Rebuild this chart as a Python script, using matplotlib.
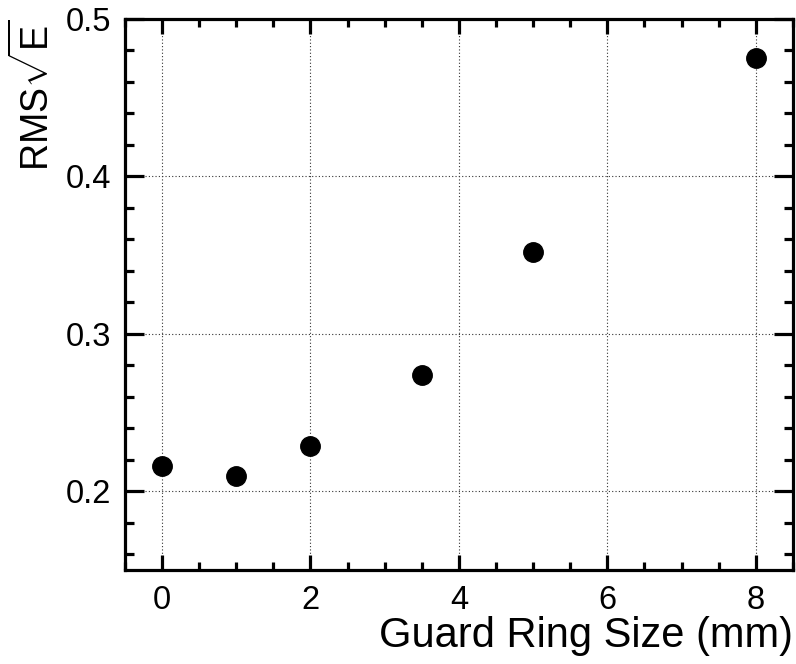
import matplotlib
matplotlib.use("Agg")
import matplotlib.pyplot as plt
from matplotlib.ticker import MultipleLocator

plt.rcParams['font.family'] = ['Liberation Sans', 'DejaVu Sans']
plt.rcParams['mathtext.fontset'] = 'custom'
plt.rcParams['mathtext.rm'] = 'Liberation Sans'
plt.rcParams['mathtext.it'] = 'Liberation Sans'

# guard ring size (mm) vs RMS/sqrt(E)
ring_size = [0, 1, 2, 3.5, 5, 8]
rms_sqrt_e = [0.216, 0.210, 0.229, 0.274, 0.352, 0.475]

fig = plt.figure(figsize=(7.96, 6.64), dpi=100)
ax = fig.add_axes([0.157, 0.1416, 0.839, 0.8298])

ax.plot(ring_size, rms_sqrt_e, 'o', color='black', markersize=14, zorder=3)

ax.set_xlim(-0.5, 8.5)
ax.set_ylim(0.15, 0.5)
ax.xaxis.set_major_locator(MultipleLocator(2))
ax.xaxis.set_minor_locator(MultipleLocator(0.5))
ax.yaxis.set_major_locator(MultipleLocator(0.1))
ax.yaxis.set_minor_locator(MultipleLocator(0.02))
ax.yaxis.set_major_formatter(matplotlib.ticker.FormatStrFormatter('%.1f'))

ax.grid(True, which='major', color='#333333', linestyle=(0, (1, 2)), linewidth=0.8)
ax.set_axisbelow(True)

for s in ax.spines.values():
    s.set_linewidth(2.3)

ax.tick_params(axis='both', which='both', direction='in', top=True, right=True,
               width=2.3, labelsize=23.5)
ax.tick_params(axis='x', which='major', length=11, pad=11)
ax.tick_params(axis='x', which='minor', length=5.5)
ax.tick_params(axis='y', which='major', length=13.5, pad=10)
ax.tick_params(axis='y', which='minor', length=6.8)

ax.set_xlabel('Guard Ring Size (mm)', fontsize=30, loc='right', labelpad=0)
ax.set_ylabel(r'RMS$\sqrt{\mathrm{E}}$', fontsize=27, loc='top', labelpad=6)

fig.savefig('out.png', dpi=100)
